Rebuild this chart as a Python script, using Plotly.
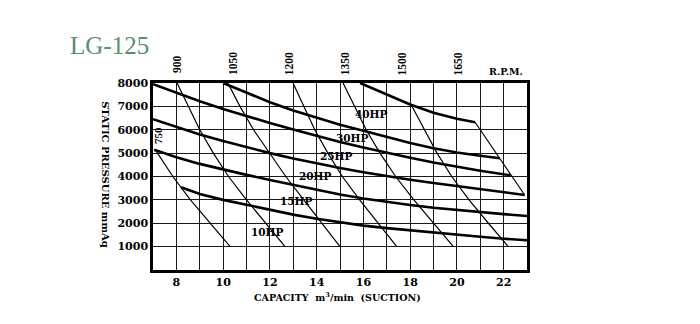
import plotly.graph_objects as go

# ---------------- data ----------------
# horsepower curves (capacity m3/min, static pressure mmAq)
hp40_x = [15.86, 16.5, 17.0, 18.0, 19.0, 20.0, 20.78]
hp40_y = [8000, 7720, 7510, 7080, 6730, 6470, 6320]

hp30_x = [10.0, 11.0, 12.0, 13.0, 14.0, 15.0, 16.0, 17.0, 18.0, 19.0, 20.0, 21.0, 21.83]
hp30_y = [8000, 7580, 7180, 6820, 6500, 6210, 5960, 5690, 5430, 5210, 5030, 4890, 4780]

hp25_x = [7.0, 8.0, 9.0, 10.0, 11.0, 12.0, 13.0, 14.0, 15.0, 16.0, 17.0, 18.0, 19.0, 20.0, 21.0, 22.3]
hp25_y = [7950, 7570, 7220, 6890, 6580, 6290, 6010, 5740, 5480, 5240, 5010, 4800, 4600, 4420, 4250, 4050]

hp20_x = [7.0, 8.0, 9.0, 10.0, 11.0, 12.0, 13.0, 14.0, 15.0, 16.0, 17.0, 18.0, 19.0, 20.0, 21.0, 22.0, 22.9]
hp20_y = [6450, 6120, 5800, 5520, 5250, 5000, 4770, 4560, 4360, 4180, 4010, 3860, 3720, 3590, 3460, 3330, 3210]

hp15_x = [7.05, 8.0, 9.0, 10.0, 11.0, 12.0, 13.0, 14.0, 15.0, 16.0, 17.0, 18.0, 19.0, 20.0, 21.0, 22.0, 23.0]
hp15_y = [5140, 4820, 4540, 4290, 4070, 3850, 3640, 3430, 3230, 3060, 2910, 2780, 2660, 2560, 2470, 2390, 2310]

hp10_x = [8.2, 9.0, 10.0, 11.0, 12.0, 13.0, 14.0, 15.0, 16.0, 17.0, 18.0, 19.0, 20.0, 21.0, 22.0, 23.0]
hp10_y = [3540, 3250, 3000, 2780, 2570, 2370, 2190, 2030, 1900, 1790, 1690, 1590, 1500, 1420, 1340, 1270]

hp_names = ["40HP", "30HP", "25HP", "20HP", "15HP", "10HP"]
hp_label_x = [16.33, 15.52, 14.83, 13.97, 13.12, 11.88]
hp_label_y = [6670, 5630, 4880, 4020, 2950, 1640]

# rpm curves
rpm750_x = [7.1, 7.85, 8.6, 9.45, 10.3]
rpm750_y = [5140, 4000, 3000, 2000, 1000]

rpm_levels = [8000, 7000, 6000, 5000, 4000, 3000, 2000, 1000]
rpm900_x = [8.03, 8.5, 9.0, 9.58, 10.23, 11.0, 11.83, 12.65]
rpm1050_x = [10.2, 10.72, 11.3, 12.0, 12.68, 13.45, 14.22, 15.0]
rpm1200_x = [12.99, 13.46, 13.92, 14.48, 15.10, 15.84, 16.64, 17.43]
rpm1350_x = [15.13, 15.63, 16.12, 16.71, 17.38, 18.16, 19.01, 19.85]

rpm1500_x = [18.05, 18.6, 19.15, 19.78, 20.52, 21.35, 22.2]
rpm1500_y = [7060, 6000, 5000, 4000, 3000, 2000, 1000]

rpm1650_x = [20.78, 22.9]
rpm1650_y = [6320, 3210]

rpm_tick_pos = [8.03, 10.43, 12.83, 15.23, 17.63, 20.03]
rpm_tick_text = ["900", "1050", "1200", "1350", "1500", "1650"]

x_tick_vals = [8, 10, 12, 14, 16, 18, 20, 22]
y_tick_vals = [1000, 2000, 3000, 4000, 5000, 6000, 7000, 8000]

# ---------------- figure ----------------
FONT = "DejaVu Serif"
fig = go.Figure()

thick = dict(color="black", width=2.6)
thin = dict(color="black", width=1.2)

for xs, ys in [(hp40_x, hp40_y), (hp30_x, hp30_y), (hp25_x, hp25_y),
               (hp20_x, hp20_y), (hp15_x, hp15_y), (hp10_x, hp10_y)]:
    fig.add_trace(go.Scatter(x=xs, y=ys, mode="lines", line=thick,
                             hoverinfo="skip", showlegend=False))

rpm_sets = [(rpm750_x, rpm750_y), (rpm900_x, rpm_levels), (rpm1050_x, rpm_levels),
            (rpm1200_x, rpm_levels), (rpm1350_x, rpm_levels),
            (rpm1500_x, rpm1500_y), (rpm1650_x, rpm1650_y)]
for xs, ys in rpm_sets:
    fig.add_trace(go.Scatter(x=xs, y=ys, mode="lines", line=thin,
                             hoverinfo="skip", showlegend=False))

tickfont = dict(family=FONT, size=11, color="black", weight="bold")

fig.update_layout(
    width=700, height=324,
    margin=dict(l=153, r=173, t=83, b=54, pad=0),
    paper_bgcolor="white", plot_bgcolor="white",
    showlegend=False,
    xaxis=dict(range=[7, 23], tickvals=x_tick_vals, ticktext=[str(v) for v in x_tick_vals],
               showgrid=True, gridcolor="#1a1a1a", gridwidth=1,
               minor=dict(dtick=1, showgrid=True, gridcolor="#1a1a1a", gridwidth=1),
               showline=True, linecolor="black", linewidth=2.5, mirror=True,
               ticks="", tickfont=tickfont, zeroline=False, fixedrange=True),
    yaxis=dict(range=[0, 8000], tickvals=y_tick_vals, ticktext=[str(v) for v in y_tick_vals],
               showgrid=True, gridcolor="#1a1a1a", gridwidth=1,
               showline=True, linecolor="black", linewidth=2.5, mirror=True,
               ticks="", tickfont=tickfont, zeroline=False, fixedrange=True),
)

ann = []
for name, lx, ly in zip(hp_names, hp_label_x, hp_label_y):
    ann.append(dict(x=lx, y=ly, xref="x", yref="y", text=name, showarrow=False,
                    xanchor="center", yanchor="middle",
                    font=dict(family=FONT, size=10.5, color="black", weight="bold")))
for pos, txt in zip(rpm_tick_pos, rpm_tick_text):
    ann.append(dict(x=pos, y=1.102, xref="x", yref="paper", text=txt, showarrow=False,
                    textangle=-90, xanchor="center", yanchor="middle",
                    font=dict(family="Liberation Serif", size=11.5, color="black", weight="bold")))
ann.append(dict(x=7.21, y=5775, xref="x", yref="y", text="750", showarrow=False, textangle=-90,
                xanchor="center", yanchor="middle",
                font=dict(family="Liberation Serif", size=11, color="black", weight="bold")))
ann.append(dict(x=0.944, y=1.059, xref="paper", yref="paper", text="R.P.M.", showarrow=False,
                xanchor="center", yanchor="middle",
                font=dict(family=FONT, size=9.5, color="black", weight="bold")))
ann.append(dict(x=-0.115, y=1.203, xref="paper", yref="paper", text="LG-125", showarrow=False,
                xanchor="center", yanchor="middle",
                font=dict(family="Liberation Serif", size=25, color="#5b8d6e")))
ann.append(dict(x=-0.126, y=0.508, xref="paper", yref="paper", text="STATIC PRESSURE mmAq",
                showarrow=False, textangle=90, xanchor="center", yanchor="middle",
                font=dict(family=FONT, size=10, color="black", weight="bold")))
ann.append(dict(x=0.492, y=-0.144, xref="paper", yref="paper",
                text="CAPACITY  m<sup>3</sup>/min  (SUCTION)", showarrow=False,
                xanchor="center", yanchor="middle",
                font=dict(family=FONT, size=9.5, color="black", weight="bold")))
fig.update_layout(annotations=ann)

fig.write_html("out.html")
